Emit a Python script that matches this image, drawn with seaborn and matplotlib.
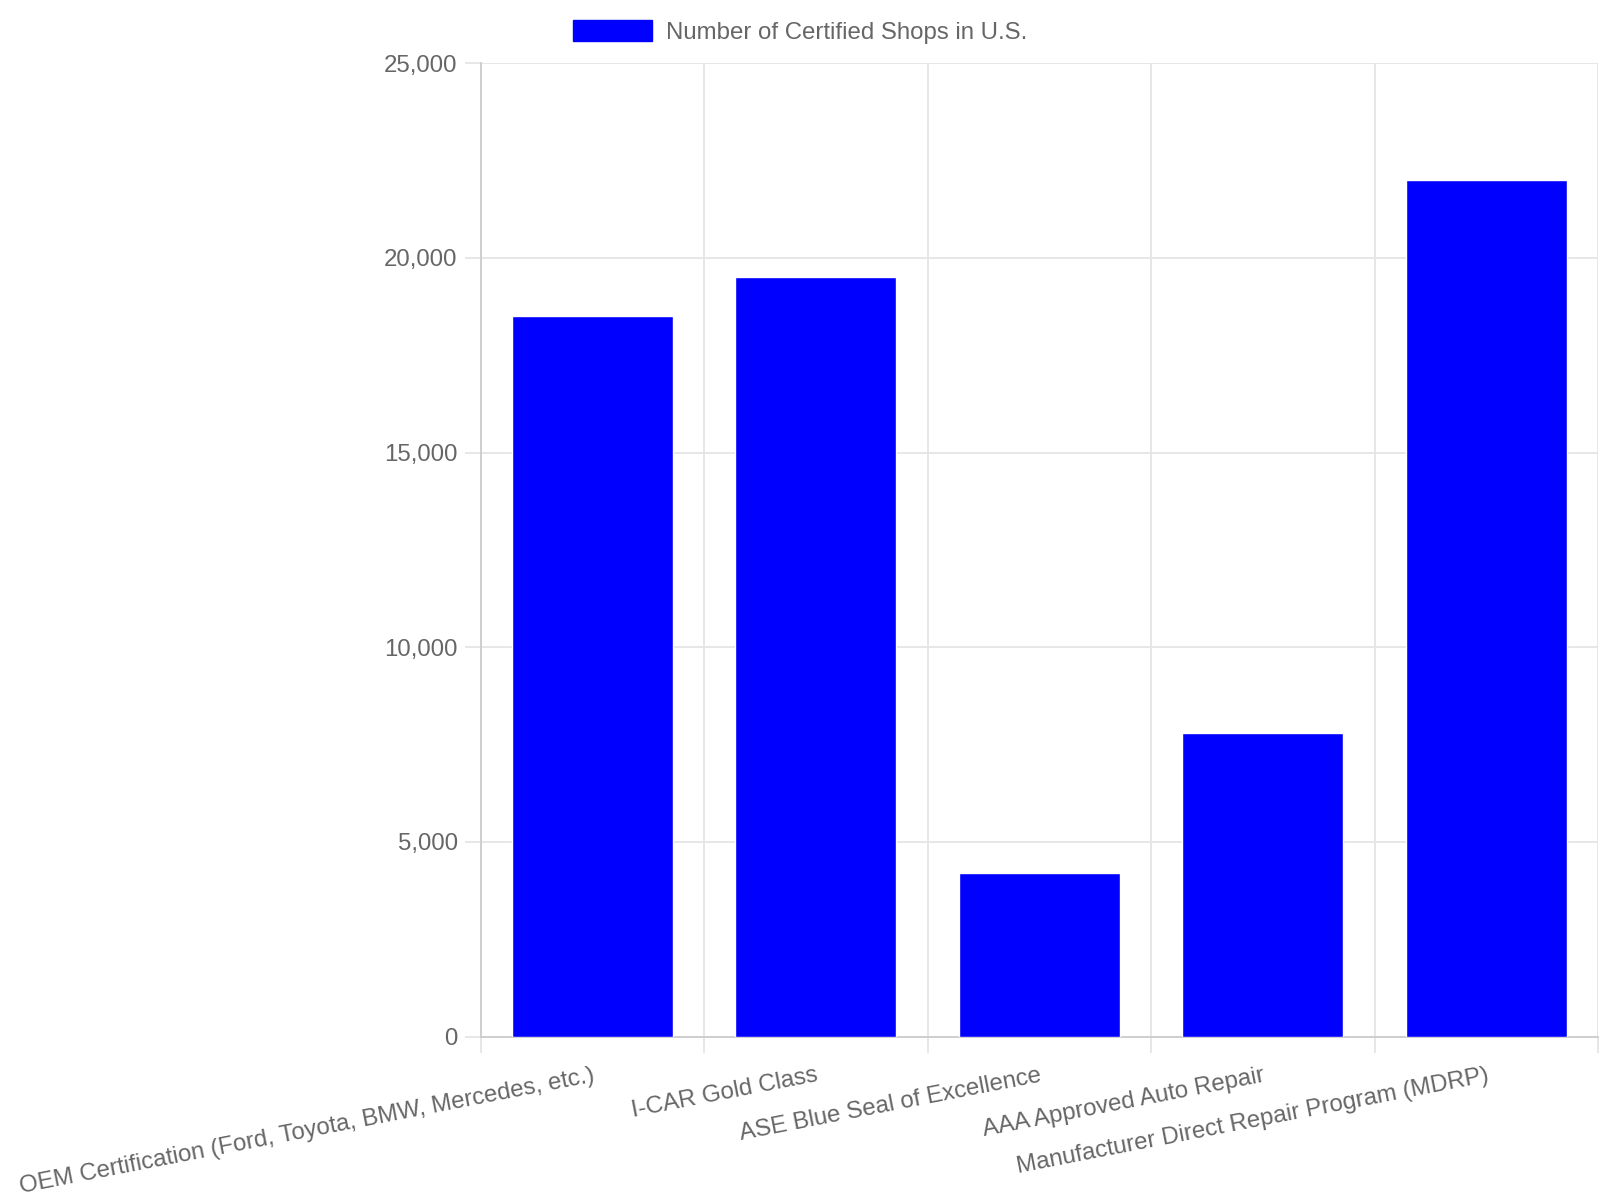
import matplotlib
matplotlib.use("Agg")
import matplotlib.pyplot as plt
from matplotlib.patches import Patch
from matplotlib.ticker import FuncFormatter, MultipleLocator, FixedLocator
import seaborn as sns
import pandas as pd

categories = [
    "OEM Certification (Ford, Toyota, BMW, Mercedes, etc.)",
    "I-CAR Gold Class",
    "ASE Blue Seal of Excellence",
    "AAA Approved Auto Repair",
    "Manufacturer Direct Repair Program (MDRP)",
]
shops = [18500, 19500, 4200, 7800, 22000]
series_name = "Number of Certified Shops in U.S."

df = pd.DataFrame({"Certification": categories, "Shops": shops})

sns.set_theme(style="white")
plt.rcParams["font.family"] = ["Liberation Sans", "DejaVu Sans"]

text_color = "#666666"
grid_color = "#e5e5e5"
axis_color = "#cccccc"
fs = 17.3

fig = plt.figure(figsize=(16, 12), dpi=100)
ax = fig.add_axes([480.6 / 1600, 1 - 1036.5 / 1200, (1598 - 480.6) / 1600, (1036.5 - 63.3) / 1200])

sns.barplot(data=df, x="Certification", y="Shops", color="#0000ff", width=0.72,
            saturation=1, ax=ax, zorder=3)

ax.set_ylim(0, 25000)
ax.set_xlim(-0.5, len(categories) - 0.5)
ax.yaxis.set_major_locator(MultipleLocator(5000))
ax.yaxis.set_major_formatter(FuncFormatter(lambda v, p: f"{int(v):,}"))
ax.set_xlabel("")
ax.set_ylabel("")

# gridlines between categories
ax.xaxis.set_minor_locator(FixedLocator([i - 0.5 for i in range(len(categories) + 1)]))
ax.grid(True, which="minor", axis="x", color=grid_color, linewidth=1.3, zorder=0)
ax.grid(True, which="major", axis="y", color=grid_color, linewidth=1.3, zorder=0)
ax.grid(False, which="major", axis="x")
ax.set_axisbelow(True)

ax.tick_params(axis="x", which="major", length=0, pad=20, labelsize=fs, labelcolor=text_color)
ax.tick_params(axis="x", which="minor", length=11.5, width=1.3, color=grid_color,
               direction="out", bottom=True)
ax.tick_params(axis="y", which="major", length=11.5, width=1.3, color=grid_color, pad=5,
               labelsize=fs, labelcolor=text_color, left=True)
ax.set_xticks(range(len(categories)))
ax.set_xticklabels(categories, rotation=11, ha="right", va="top", rotation_mode="anchor")

for side in ["top", "right"]:
    ax.spines[side].set_visible(False)
for side in ["left", "bottom"]:
    ax.spines[side].set_color(axis_color)
    ax.spines[side].set_linewidth(1.3)

handle = Patch(facecolor="#0000ff", edgecolor="#0000ff", label=series_name)
fig.legend(handles=[handle], loc="center", bbox_to_anchor=(0.5, 1 - 32 / 1200), frameon=False,
           fontsize=fs, labelcolor=text_color, handlelength=3.3, handleheight=0.95,
           handletextpad=0.55)

fig.savefig("out.png", dpi=100)
